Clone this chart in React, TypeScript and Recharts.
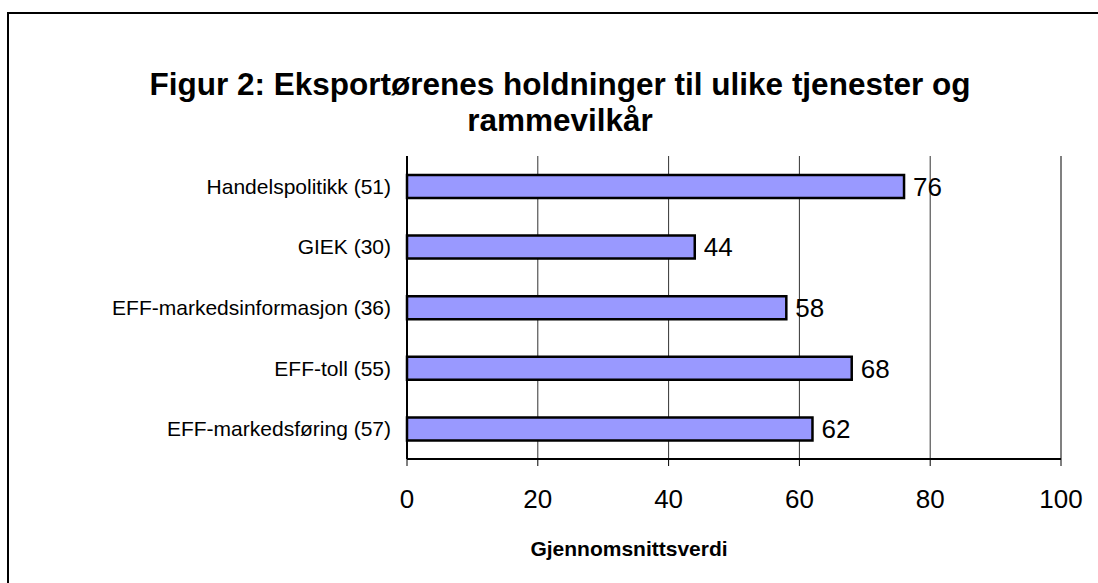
import React from 'react';
import { BarChart, Bar, XAxis, YAxis, CartesianGrid, LabelList, ReferenceLine } from 'recharts';

const categories = [
  'Handelspolitikk (51)',
  'GIEK (30)',
  'EFF-markedsinformasjon (36)',
  'EFF-toll (55)',
  'EFF-markedsføring (57)',
];
const values = [76, 44, 58, 68, 62];
const xTicks = [0, 20, 40, 60, 80, 100];
const boundaryTicks = [0, 1, 2, 3, 4, 5];
const titleLines = ['Figur 2: Eksportørenes holdninger til ulike tjenester og', 'rammevilkår'];
const xAxisTitle = 'Gjennomsnittsverdi';

const data = categories.map((name, i) => ({ name, value: values[i] }));

const FONT = '"Liberation Sans", Arial, Helvetica, sans-serif';

export default function App() {
  return (
    <div style={{ position: 'absolute', left: 0, top: 0, width: 1098, height: 583, overflow: 'hidden', background: '#fff', fontFamily: FONT }}>
      <div style={{ position: 'absolute', left: 7, top: 12, width: 1100, height: 600, borderTop: '2px solid #000', borderLeft: '2px solid #000' }} />
      <div style={{ position: 'absolute', left: 60, width: 1000, top: 66, textAlign: 'center', fontWeight: 'bold', fontSize: 31.5, lineHeight: '36px', color: '#000' }}>
        {titleLines.map((t, i) => (<div key={i}>{t}</div>))}
      </div>
      <div style={{ position: 'absolute', left: 429, width: 400, top: 535, textAlign: 'center', fontWeight: 'bold', fontSize: 21, lineHeight: '28px', color: '#000' }}>
        {xAxisTitle}
      </div>
      <div style={{ position: 'absolute', left: 0, top: 0 }}>
        <BarChart
          width={1098}
          height={583}
          data={data}
          layout="vertical"
          margin={{ top: 156, right: 37, bottom: 14, left: 7 }}
          barCategoryGap={0}
        >
          <CartesianGrid horizontal={false} stroke="#333" strokeWidth={1} />
          <XAxis
            type="number"
            domain={[0, 100]}
            ticks={xTicks}
            height={110}
            axisLine={{ stroke: '#000', strokeWidth: 2 }}
            tickLine={{ stroke: '#000', strokeWidth: 1 }}
            tickSize={7}
            tickMargin={24}
            tick={{ fill: '#000', fontSize: 26, fontFamily: FONT }}
            interval={0}
          />
          <YAxis
            yAxisId="num"
            type="number"
            domain={[0, 5]}
            ticks={boundaryTicks}
            width={0}
            axisLine={false}
            tickLine={{ stroke: '#000', strokeWidth: 1 }}
            tickSize={7}
            tick={false}
            allowDataOverflow
          />
          <YAxis
            yAxisId="cat"
            type="category"
            dataKey="name"
            width={400}
            axisLine={{ stroke: '#000', strokeWidth: 2 }}
            tickLine={false}
            tickSize={0}
            tickMargin={16}
            tick={{ fill: '#000', fontSize: 21, fontFamily: FONT }}
            interval={0}
          />
          <ReferenceLine x={100} yAxisId="cat" stroke="#808080" strokeWidth={2} />
          <ReferenceLine y={5} yAxisId="num" stroke="#808080" strokeWidth={2} />
          <Bar yAxisId="cat" dataKey="value" fill="#9999FF" stroke="#000" strokeWidth={2.5} barSize={23} isAnimationActive={false}>
            <LabelList dataKey="value" position="right" offset={9} style={{ fill: '#000', fontSize: 26, fontFamily: FONT }} />
          </Bar>
        </BarChart>
      </div>
    </div>
  );
}
